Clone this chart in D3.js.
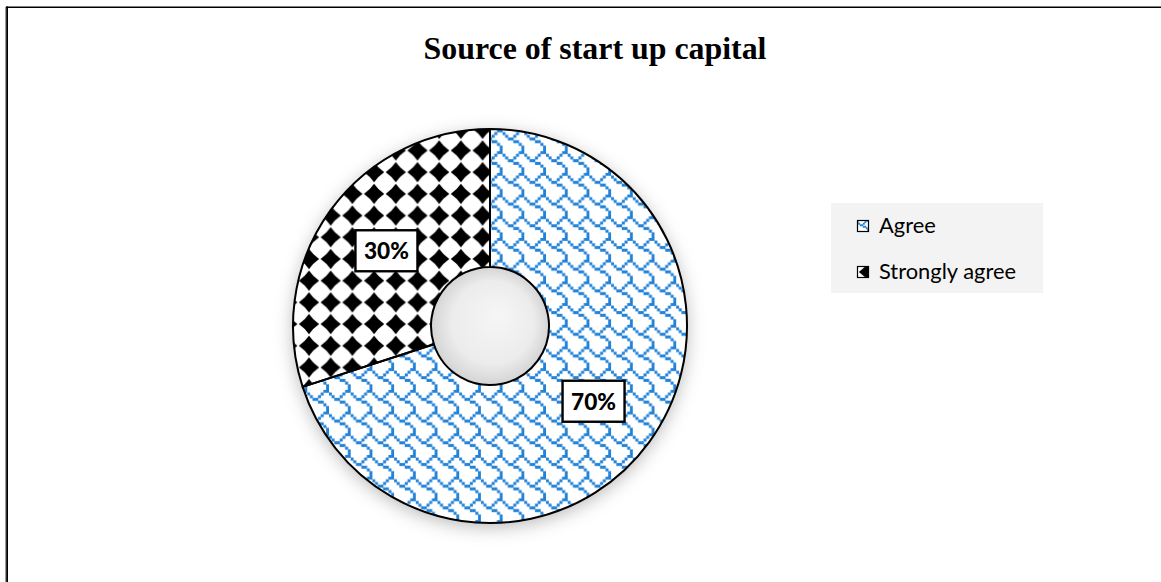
<!DOCTYPE html>
<html>
<head>
<meta charset="utf-8">
<script src="https://cdn.jsdelivr.net/npm/d3@7"></script>
<style>
  html, body { margin: 0; padding: 0; background: #ffffff; }
  svg { display: block; }
</style>
</head>
<body>
<svg id="chart" width="1161" height="582"></svg>
<script>
// Survey responses: source of start up capital
const title = "Source of start up capital";
const categories = ["Agree", "Strongly agree"];
const values = [70, 30];
const valueLabels = ["70%", "30%"];

const W = 1161, H = 582;
const svg = d3.select("#chart");
const defs = svg.append("defs");

// shingle hatch: 8x8 bitmap upscaled into an SVG pattern
const shingleRows = [0x03, 0x84, 0x48, 0x30, 0x0c, 0x02, 0x01, 0x01];

function shinglePattern(id, s, ox, oy, color, grow) {
  const p = defs.append("pattern")
    .attr("id", id)
    .attr("patternUnits", "userSpaceOnUse")
    .attr("x", ox).attr("y", oy)
    .attr("width", 8 * s).attr("height", 8 * s);
  p.append("rect").attr("width", 8 * s).attr("height", 8 * s).attr("fill", "#fff");
  shingleRows.forEach((bits, r) => {
    for (let c = 0; c < 8; c++) {
      if (bits & (0x80 >> c)) {
        p.append("rect")
          .attr("x", c * s - grow).attr("y", r * s - grow)
          .attr("width", s + 2 * grow).attr("height", s + 2 * grow)
          .attr("fill", color);
      }
    }
  });
}

// solid-diamond hatch: one concave-sided black diamond per tile
function diamondPattern(id, cell, half, ox, oy) {
  const p = defs.append("pattern")
    .attr("id", id)
    .attr("patternUnits", "userSpaceOnUse")
    .attr("x", ox).attr("y", oy)
    .attr("width", cell).attr("height", cell);
  p.append("rect").attr("width", cell).attr("height", cell).attr("fill", "#fff");
  const c = cell / 2, k = half * 0.41;
  p.append("path")
    .attr("d", `M${c},${c - half} Q${c + k},${c - k} ${c + half},${c}
                Q${c + k},${c + k} ${c},${c + half}
                Q${c - k},${c + k} ${c - half},${c}
                Q${c - k},${c - k} ${c},${c - half}Z`)
    .attr("fill", "#000");
}

const cell = 21.7;
shinglePattern("pat-agree", cell / 8, 490, 129, "#1f80d6", 0.15);
diamondPattern("pat-strong", cell, 10.1, 491.7 - cell / 2, 150 - cell / 2);
shinglePattern("pat-agree-key", 1.5, 857, 220, "#1f80d6", 0.2);
diamondPattern("pat-strong-key", cell, 10.1, 869 - cell / 2, 272 - cell / 2);
const fills = ["url(#pat-agree)", "url(#pat-strong)"];
const keyFills = ["url(#pat-agree-key)", "url(#pat-strong-key)"];

// soft edge for the hatch fills
defs.append("filter").attr("id", "soften")
  .attr("x", "-5%").attr("y", "-5%").attr("width", "110%").attr("height", "110%")
  .append("feGaussianBlur").attr("stdDeviation", 0.6);

// glow/shadow around the ring
const sh = defs.append("filter").attr("id", "ringShadow")
  .attr("x", "-20%").attr("y", "-20%").attr("width", "140%").attr("height", "140%");
sh.append("feDropShadow")
  .attr("dx", 0).attr("dy", 4)
  .attr("stdDeviation", 9)
  .attr("flood-color", "#000").attr("flood-opacity", 0.28);

// shaded hole
const hg = defs.append("radialGradient").attr("id", "holeGrad")
  .attr("cx", "50%").attr("cy", "50%").attr("r", "50%")
  .attr("fx", "58%").attr("fy", "40%");
hg.append("stop").attr("offset", "0%").attr("stop-color", "#f6f6f6");
hg.append("stop").attr("offset", "70%").attr("stop-color", "#ececec");
hg.append("stop").attr("offset", "100%").attr("stop-color", "#d4d4d4");

// chart frame (top and left edges)
svg.append("line").attr("x1", 6).attr("x2", W + 5).attr("y1", 7.3).attr("y2", 7.3)
  .attr("stroke", "#000").attr("stroke-width", 1.6);
svg.append("line").attr("x1", 5.6).attr("x2", 5.6).attr("y1", 7).attr("y2", H + 5)
  .attr("stroke", "#9a9a9a").attr("stroke-width", 1.2);
svg.append("line").attr("x1", 7.1).attr("x2", 7.1).attr("y1", 6.5).attr("y2", H + 5)
  .attr("stroke", "#000").attr("stroke-width", 1.8);

// fit a text node's font size to a given rendered width
function fitWidth(sel, target) {
  const base = parseFloat(sel.attr("font-size"));
  const w = sel.node().getComputedTextLength();
  sel.attr("font-size", (base * target / w).toFixed(2));
}

// title
const t = svg.append("text")
  .attr("x", 595).attr("y", 58.5)
  .attr("text-anchor", "middle")
  .attr("font-family", "'Liberation Serif', 'Times New Roman', serif")
  .attr("font-weight", "bold")
  .attr("font-size", 26)
  .attr("fill", "#000")
  .text(title);
fitWidth(t, 343);

// donut
const cx = 490, cy = 326, R = 197, r0 = 59;
const pie = d3.pie().sort(null).value(d => d.value).startAngle(0).endAngle(2 * Math.PI);
const data = pie(categories.map((c, i) => ({ name: c, value: values[i], label: valueLabels[i], i })));
const arc = d3.arc().innerRadius(r0).outerRadius(R);

const shadowG = svg.append("g").attr("transform", `translate(${cx},${cy})`);
shadowG.append("circle").attr("r", R).attr("fill", "#fff").attr("filter", "url(#ringShadow)");

const fillG = svg.append("g").attr("filter", "url(#soften)");
fillG.selectAll("path").data(data).join("path")
  .attr("transform", `translate(${cx},${cy})`)
  .attr("d", arc)
  .attr("fill", d => fills[d.data.i]);

const g = svg.append("g").attr("transform", `translate(${cx},${cy})`);
g.append("circle").attr("r", r0).attr("fill", "url(#holeGrad)");

g.selectAll("path.edge").data(data).join("path")
  .attr("class", "edge")
  .attr("d", arc)
  .attr("fill", "none")
  .attr("stroke", "#000")
  .attr("stroke-width", 2)
  .attr("stroke-linejoin", "round");

// value labels in boxes at slice centroids
const labelFont = "Lato, 'Open Sans', sans-serif";
data.forEach(d => {
  const [lx, ly] = arc.centroid(d);
  const lg = g.append("g").attr("transform", `translate(${lx},${ly})`);
  lg.append("rect")
    .attr("x", -31).attr("y", -20.5).attr("width", 62).attr("height", 41)
    .attr("fill", "#fff").attr("stroke", "#000").attr("stroke-width", 2.4);
  const tx = lg.append("text")
    .attr("text-anchor", "middle")
    .attr("y", 8.5)
    .attr("font-family", labelFont)
    .attr("font-weight", "900")
    .attr("font-size", 22)
    .attr("fill", "#000")
    .text(d.data.label);
  fitWidth(tx, 45);
});

// legend
const leg = svg.append("g");
leg.append("rect").attr("x", 831).attr("y", 203).attr("width", 212).attr("height", 90)
  .attr("fill", "#f3f3f3");
const keyY = [220, 266];
const legTexts = [];
categories.forEach((c, i) => {
  leg.append("rect")
    .attr("x", 857.5).attr("y", keyY[i] + 0.5).attr("width", 11).attr("height", 11)
    .attr("fill", keyFills[i]).attr("stroke", "#000").attr("stroke-width", 1.2);
  legTexts.push(leg.append("text")
    .attr("x", 879).attr("y", keyY[i] + 13)
    .attr("font-family", labelFont)
    .attr("font-size", 18)
    .attr("fill", "#000")
    .text(c));
});
fitWidth(legTexts[1], 137);
legTexts[0].attr("font-size", legTexts[1].attr("font-size"));
</script>
</body>
</html>
